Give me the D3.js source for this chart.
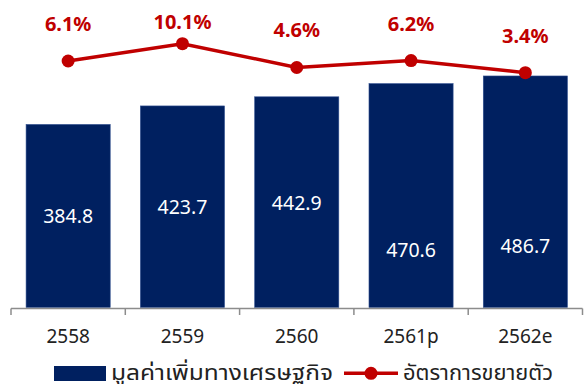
<!DOCTYPE html>
<html>
<head>
<meta charset="utf-8">
<script src="https://cdn.jsdelivr.net/npm/d3@7"></script>
<style>
  html, body { margin: 0; padding: 0; background: #fff; }
  svg { display: block; }
  text { font-family: "Noto Sans", "Noto Sans Thai", "Noto Sans Thai UI", "Loma", "Garuda", "Open Sans", sans-serif; }
</style>
</head>
<body>
<svg id="chart" width="587" height="384"></svg>
<script>
// Economic value added (bars) and growth rate in % (line), by Thai fiscal year
const years = ["2558", "2559", "2560", "2561p", "2562e"];
const valueAdded = [384.8, 423.7, 442.9, 470.6, 486.7];
const growthRate = [6.1, 10.1, 4.6, 6.2, 3.4];
const seriesNames = ["มูลค่าเพิ่มทางเศรษฐกิจ", "อัตราการขยายตัว"];

const navy = "#002060";
const red = "#C00000";

const svg = d3.select("#chart");

// Layout
const axisLeft = 11, axisRight = 582.5;
const baseY = 307.5;

const x = d3.scaleBand()
  .domain(years)
  .range([axisLeft, axisRight])
  .paddingInner(0.264)
  .paddingOuter(0.132);

const yBar = d3.scaleLinear().domain([0, 600]).range([baseY, baseY - 600 * 0.4757]);
const yLine = d3.scaleLinear().domain([0, 10]).range([87.4, 44.1]);

// Bars
svg.append("g")
  .selectAll("rect")
  .data(valueAdded)
  .join("rect")
  .attr("x", (d, i) => x(years[i]))
  .attr("y", d => yBar(d))
  .attr("width", x.bandwidth())
  .attr("height", d => yBar(0) - yBar(d))
  .attr("fill", navy)
  .attr("stroke", "#2f4f8f")
  .attr("stroke-width", 0.6);

// Value labels inside bars (the two forecast years sit lower in their bars)
const labelDrop = [0, 0, 0, 54, 54];
svg.append("g")
  .selectAll("text")
  .data(valueAdded)
  .join("text")
  .attr("x", (d, i) => x(years[i]) + x.bandwidth() / 2)
  .attr("y", (d, i) => (yBar(d) + yBar(0)) / 2 + labelDrop[i])
  .attr("text-anchor", "middle")
  .attr("dominant-baseline", "central")
  .attr("fill", "#ffffff")
  .attr("font-size", 19.5)
  .text(d => d.toFixed(1));

// Category axis with boundary ticks
const axisG = svg.append("g");
axisG.append("line")
  .attr("x1", axisLeft).attr("x2", axisRight)
  .attr("y1", baseY + 1).attr("y2", baseY + 1)
  .attr("stroke", "#8c8c8c").attr("stroke-width", 1.5);
const step = x.step();
const bounds = d3.range(years.length + 1).map(i => axisLeft + i * step);
axisG.selectAll("line.tick")
  .data(bounds)
  .join("line")
  .attr("class", "tick")
  .attr("x1", d => d).attr("x2", d => d)
  .attr("y1", baseY + 1).attr("y2", baseY + 7.5)
  .attr("stroke", "#8c8c8c").attr("stroke-width", 1.5);
axisG.selectAll("text")
  .data(years)
  .join("text")
  .attr("x", d => x(d) + x.bandwidth() / 2)
  .attr("y", 336)
  .attr("text-anchor", "middle")
  .attr("dominant-baseline", "central")
  .attr("fill", "#222")
  .attr("font-size", 19)
  .text(d => d);

// Growth line
const linePts = growthRate.map((v, i) => [x(years[i]) + x.bandwidth() / 2, yLine(v)]);
svg.append("path")
  .attr("d", d3.line()(linePts))
  .attr("fill", "none")
  .attr("stroke", red)
  .attr("stroke-width", 3.5);
svg.append("g")
  .selectAll("circle")
  .data(linePts)
  .join("circle")
  .attr("cx", d => d[0]).attr("cy", d => d[1])
  .attr("r", 6.5)
  .attr("fill", red);

// Growth labels, kept inside the top edge
svg.append("g")
  .selectAll("text")
  .data(growthRate)
  .join("text")
  .attr("x", (d, i) => linePts[i][0])
  .attr("y", (d, i) => Math.max(linePts[i][1] - 37.5, 21.7))
  .attr("text-anchor", "middle")
  .attr("dominant-baseline", "central")
  .attr("fill", red)
  .attr("font-weight", "bold")
  .attr("font-size", 20)
  .text(d => d.toFixed(1) + "%");

// Legend
const legend = svg.append("g");
legend.append("rect")
  .attr("x", 54).attr("y", 366).attr("width", 52).attr("height", 15)
  .attr("fill", navy);
legend.append("text")
  .attr("x", 111).attr("y", 371)
  .attr("dominant-baseline", "central")
  .attr("fill", "#222")
  .attr("font-size", 21.5)
  .attr("textLength", 222)
  .attr("lengthAdjust", "spacingAndGlyphs")
  .text(seriesNames[0]);
legend.append("line")
  .attr("x1", 344).attr("x2", 398)
  .attr("y1", 373.3).attr("y2", 373.3)
  .attr("stroke", red).attr("stroke-width", 3.5);
legend.append("circle")
  .attr("cx", 371).attr("cy", 373.3).attr("r", 6.5)
  .attr("fill", red);
legend.append("text")
  .attr("x", 403).attr("y", 371)
  .attr("dominant-baseline", "central")
  .attr("fill", "#222")
  .attr("font-size", 21.5)
  .attr("textLength", 150)
  .attr("lengthAdjust", "spacingAndGlyphs")
  .text(seriesNames[1]);
</script>
</body>
</html>
